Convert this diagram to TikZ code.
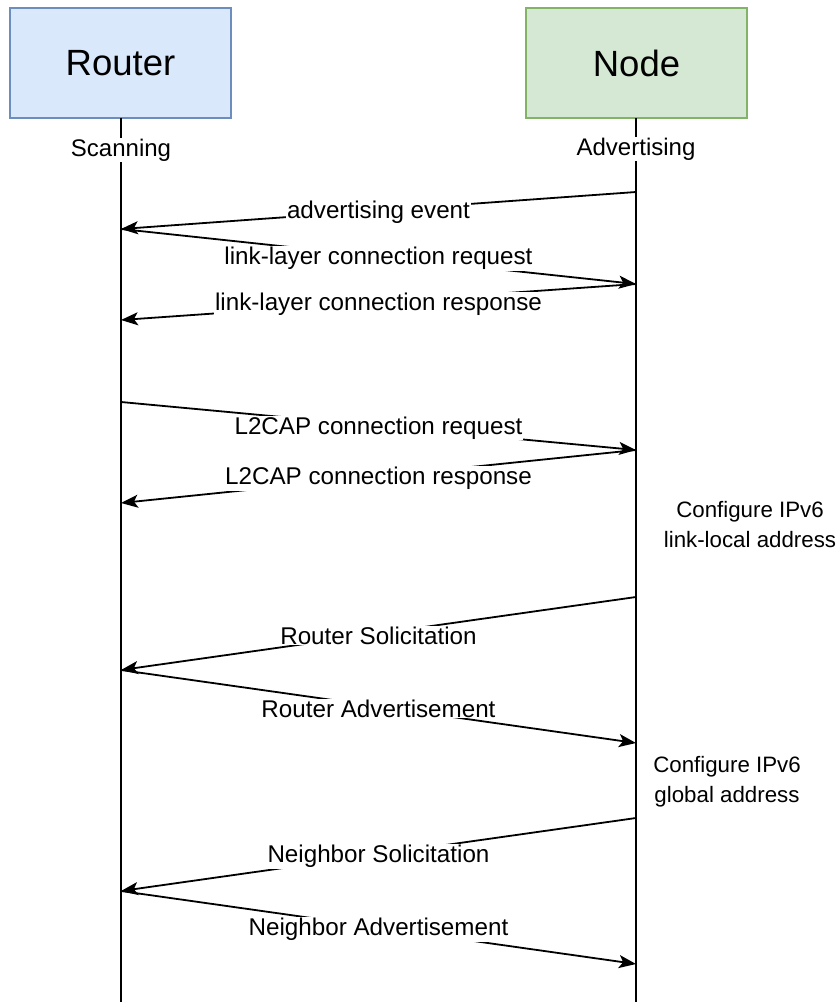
\documentclass[tikz,border=0pt]{standalone}
\usepackage{fontspec}
\setmainfont{Liberation Sans}
\usetikzlibrary{arrows.meta}
\definecolor{routerfill}{HTML}{DAE8FC}
\definecolor{routerline}{HTML}{6C8EBF}
\definecolor{nodefill}{HTML}{D5E8D4}
\definecolor{nodeline}{HTML}{82B366}
\begin{document}
\begin{tikzpicture}[x=1pt,y=-1pt,
  actor/.style={draw, line width=1.5pt, minimum width=221pt, minimum height=110pt,
    font=\fontsize{36.5}{40}\selectfont},
  lifeline/.style={line width=1.8pt},
  msg/.style={line width=1.8pt, -{Stealth[length=17pt,width=13pt,inset=4pt]}},
  lbl/.style={fill=white, inner sep=1pt, yshift=-2pt, font=\fontsize{24.2}{28}\selectfont},
  state/.style={fill=white, inner sep=1pt, font=\fontsize{24}{28}\selectfont},
  note/.style={align=center, inner sep=0pt, font=\fontsize{22.3}{30}\selectfont}]
\useasboundingbox (0,0) rectangle (838,1002);

% participants
\node[actor, fill=routerfill, draw=routerline] (router) at (120.5,63) {Router};
\node[actor, fill=nodefill, draw=nodeline] (node) at (636.5,63) {Node};

% lifelines
\coordinate (rend) at (121,1002);
\coordinate (nend) at (636,1002);
\draw[lifeline] (121,118) -- (rend);
\draw[lifeline] (636,118) -- (nend);
\node[state] (scan) at (121,150) {Scanning};
\node[state] (adv) at (636,149) {Advertising};

% message anchor points on the lifelines
\coordinate (n1) at (636,192);
\coordinate (r1) at (121,229);
\coordinate (n2) at (636,284);
\coordinate (r2) at (121,320);
\coordinate (r3) at (121,402);
\coordinate (n3) at (636,450);
\coordinate (r4) at (121,503);
\coordinate (n4) at (636,597);
\coordinate (r5) at (121,670);
\coordinate (n5) at (636,743);
\coordinate (n6) at (636,818);
\coordinate (r6) at (121,891);
\coordinate (n7) at (636,964);

% link-layer connection
\draw[msg] (n1) -- node[lbl] (m1) {advertising event} (r1);
\draw[msg] (r1) -- node[lbl] (m2) {link-layer connection request} (n2);
\draw[msg] (n2) -- node[lbl] (m3) {link-layer connection response} (r2);

% L2CAP channel
\draw[msg] (r3) -- node[lbl] (m4) {L2CAP connection request} (n3);
\draw[msg] (n3) -- node[lbl] (m5) {L2CAP connection response} (r4);

\node[note] (cfg1) at (750,525) {Configure IPv6\\link-local address};

% router discovery
\draw[msg] (n4) -- node[lbl] (m6) {Router Solicitation} (r5);
\draw[msg] (r5) -- node[lbl] (m7) {Router Advertisement} (n5);

\node[note] (cfg2) at (727,782) {Configure IPv6\\global address};

% neighbor discovery
\draw[msg] (n6) -- node[lbl] (m8) {Neighbor Solicitation} (r6);
\draw[msg] (r6) -- node[lbl] (m9) {Neighbor Advertisement} (n7);
\end{tikzpicture}
\end{document}
